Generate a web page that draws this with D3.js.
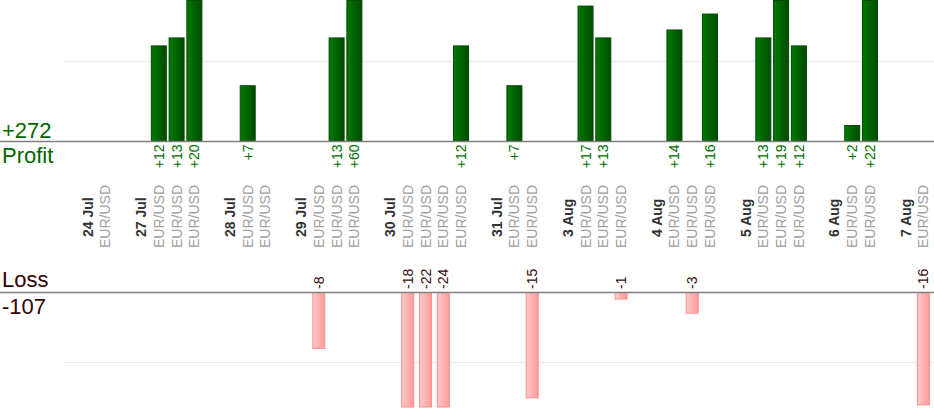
<!DOCTYPE html>
<html>
<head>
<meta charset="utf-8">
<script src="https://cdn.jsdelivr.net/npm/d3@7"></script>
<style>
  body { margin: 0; background: #fff; }
  svg { display: block; font-family: Arial, "Liberation Sans", sans-serif; }
</style>
</head>
<body>
<svg id="chart"></svg>
<script>
// trading days, one group of columns each
const days = ["24 Jul", "27 Jul", "28 Jul", "29 Jul", "30 Jul", "31 Jul",
              "3 Aug", "4 Aug", "5 Aug", "6 Aug", "7 Aug"];
// which day every trade belongs to
const tradeDay = [0, 1, 1, 1, 2, 2, 3, 3, 3, 4, 4, 4, 4, 5, 5,
                  6, 6, 6, 7, 7, 7, 8, 8, 8, 9, 9, 10];
const tradePair = "EUR/USD";
// result in pips of every trade
const tradeResult = [0, 12, 13, 20, 7, 0, -8, 13, 60, -18, -22, -24, 12, 7, -15,
                     17, 13, -1, 14, -3, 16, 13, 19, 12, 2, 22, -16];
const gridValue = 10;

const width = 934, height = 420;
const svg = d3.select("#chart").attr("width", width).attr("height", height);

// build the list of columns: date label, its trades, then an empty gap
var columns = [];
days.forEach(function(day, i) {
    columns.push({type: "date", label: day});
    tradeResult.forEach(function(r, t) {
        if (tradeDay[t] === i) columns.push({type: "trade", label: tradePair, value: r});
    });
    columns.push({type: "gap"});
});
columns.forEach((c, i) => c.id = i);

const x = d3.scaleBand()
    .domain(columns.map(c => c.id))
    .range([78.8, 78.8 + columns.length * 17.78]);

// profit panel grows up from its base line, loss panel grows down
const profitBase = 141, lossBase = 292;
const yProfit = d3.scaleLinear().domain([0, 17.7]).range([profitBase, 0]).clamp(true);
const yLoss = d3.scaleLinear().domain([0, 16.3]).range([lossBase, 407]).clamp(true);

const totalProfit = d3.sum(tradeResult.filter(v => v > 0));
const totalLoss = d3.sum(tradeResult.filter(v => v < 0));

// gradients for the bars
const defs = svg.append("defs");
const gGreen = defs.append("linearGradient").attr("id", "green");
gGreen.append("stop").attr("offset", "0%").attr("stop-color", "#007a00");
gGreen.append("stop").attr("offset", "100%").attr("stop-color", "#004a00");
const gPink = defs.append("linearGradient").attr("id", "pink");
gPink.append("stop").attr("offset", "0%").attr("stop-color", "#ffcaca");
gPink.append("stop").attr("offset", "100%").attr("stop-color", "#ff9a9a");

// grid lines
svg.append("line")
    .attr("x1", 63).attr("x2", width)
    .attr("y1", yProfit(gridValue)).attr("y2", yProfit(gridValue))
    .attr("stroke", "#e8e8e8");
svg.append("line")
    .attr("x1", 63).attr("x2", width)
    .attr("y1", yLoss(gridValue)).attr("y2", yLoss(gridValue))
    .attr("stroke", "#e8e8e8");

const trades = columns.filter(c => c.type === "trade");
const cx = c => x(c.id) + x.bandwidth() / 2;

// profit bars
svg.selectAll(".profit")
    .data(trades.filter(c => c.value > 0))
    .join("rect")
    .attr("class", "profit")
    .attr("x", c => cx(c) - 7.5)
    .attr("width", 15)
    .attr("y", c => yProfit(c.value) + 0.5)
    .attr("height", c => profitBase - yProfit(c.value) - 0.5)
    .attr("fill", "url(#green)")
    .attr("stroke", "#004a00")
    .attr("stroke-width", 1);

// loss bars
svg.selectAll(".loss")
    .data(trades.filter(c => c.value < 0))
    .join("rect")
    .attr("class", "loss")
    .attr("x", c => cx(c) - 6)
    .attr("width", 12)
    .attr("y", lossBase + 0.5)
    .attr("height", c => yLoss(-c.value) - lossBase - 0.5)
    .attr("fill", "url(#pink)")
    .attr("stroke", "#ff8e8e")
    .attr("stroke-width", 1);

// base lines
svg.append("line")
    .attr("x1", 0).attr("x2", width)
    .attr("y1", profitBase + 0.5).attr("y2", profitBase + 0.5)
    .attr("stroke", "#808080").attr("stroke-width", 1.3);
svg.append("line")
    .attr("x1", 0).attr("x2", width)
    .attr("y1", lossBase + 0.5).attr("y2", lossBase + 0.5)
    .attr("stroke", "#808080").attr("stroke-width", 1.3);

// rotated labels
function vtext(sel, y, anchor) {
    return sel.join("text")
        .attr("transform", c => "translate(" + (cx(c) + 5) + "," + y + ") rotate(-90)")
        .attr("text-anchor", anchor)
        .style("font-size", "14px");
}

vtext(svg.selectAll(".pval").data(trades.filter(c => c.value > 0)), 144.5, "end")
    .attr("class", "pval")
    .attr("fill", "#007000")
    .text(c => "+" + c.value);

vtext(svg.selectAll(".lval").data(trades.filter(c => c.value < 0)), 289, "start")
    .attr("class", "lval")
    .attr("fill", "#3a0a0a")
    .text(c => c.value);

vtext(svg.selectAll(".pair").data(trades), 248, "start")
    .attr("class", "pair")
    .attr("fill", "#a0a0a0")
    .text(c => c.label);

vtext(svg.selectAll(".day").data(columns.filter(c => c.type === "date")), 237, "start")
    .attr("class", "day")
    .attr("fill", "#333")
    .style("font-weight", "bold")
    .text(c => c.label);

// totals on the left
svg.append("text").attr("x", 2).attr("y", 138)
    .attr("fill", "#006600").style("font-size", "22px")
    .text("+" + totalProfit);
svg.append("text").attr("x", 2).attr("y", 163)
    .attr("fill", "#006600").style("font-size", "22px")
    .text("Profit");
svg.append("text").attr("x", 2).attr("y", 287)
    .attr("fill", "#330000").style("font-size", "22px")
    .text("Loss");
svg.append("text").attr("x", 2).attr("y", 314)
    .attr("fill", "#330000").style("font-size", "22px")
    .text(totalLoss);
</script>
</body>
</html>
